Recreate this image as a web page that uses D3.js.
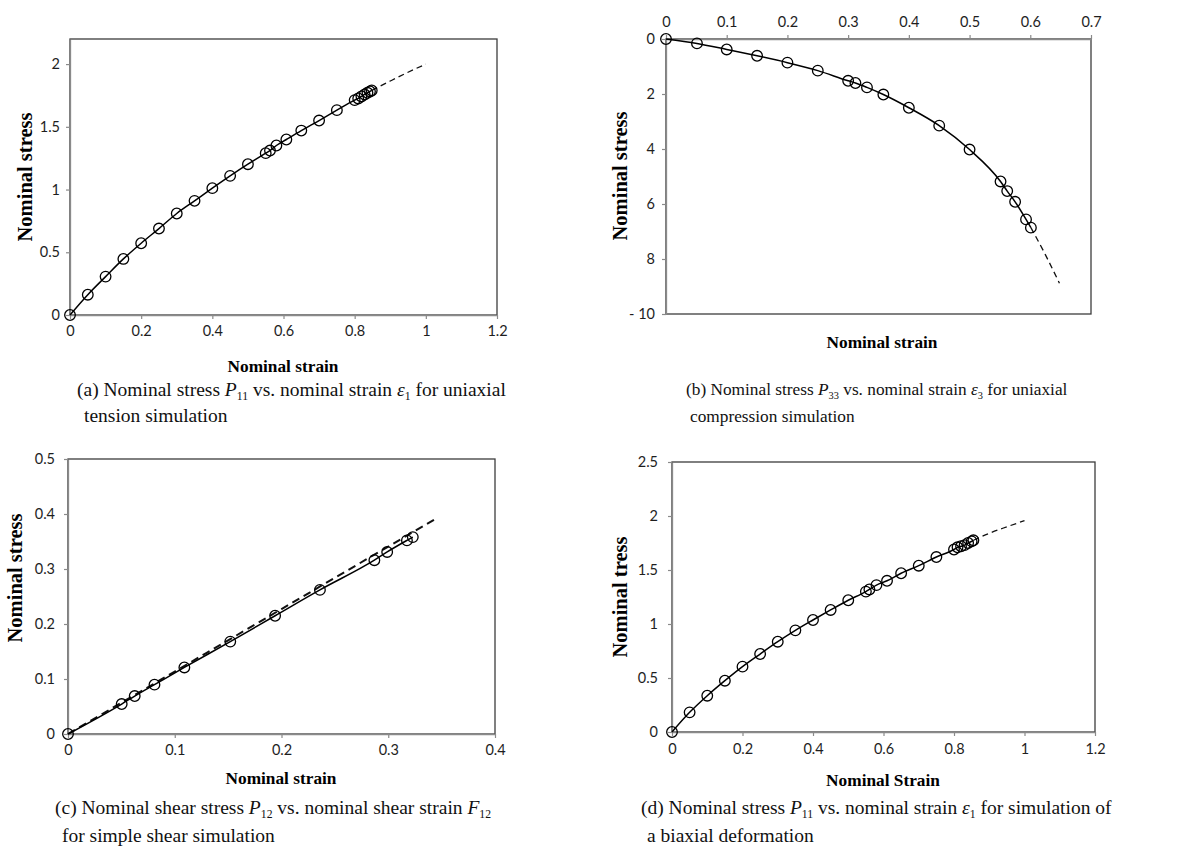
<!DOCTYPE html>
<html><head><meta charset="utf-8">
<script src="https://cdn.jsdelivr.net/npm/d3@7"></script>
<style>body{margin:0;background:#fff}</style>
</head><body>
<svg id="chart" width="1204" height="853"></svg>
<script>
// ---------- (a) uniaxial tension ----------
const aStrain = [0,0.05,0.1,0.15,0.2,0.25,0.3,0.35,0.4,0.45,0.5,0.55,0.562,0.58,0.608,0.65,0.7,0.75,0.8,0.81,0.819,0.828,0.836,0.843,0.848];
const aStress = [0,0.162,0.306,0.447,0.572,0.689,0.809,0.91,1.011,1.109,1.202,1.29,1.311,1.351,1.399,1.47,1.55,1.633,1.713,1.726,1.742,1.758,1.771,1.782,1.79];
const aModelStrain = [0.848,0.9,0.95,1.0];
const aModelStress = [1.79,1.865,1.935,2.0];
const aXTicks = [0,0.2,0.4,0.6,0.8,1,1.2];
const aXLabels = ["0","0.2","0.4","0.6","0.8","1","1.2"];
const aYTicks = [0,0.5,1,1.5,2];
const aYLabels = ["0","0.5","1","1.5","2"];

// ---------- (b) uniaxial compression ----------
const bStrain = [0,0.051,0.1,0.15,0.2,0.25,0.3,0.312,0.331,0.358,0.4,0.45,0.5,0.551,0.562,0.575,0.593,0.601];
const bStress = [0,-0.16,-0.38,-0.61,-0.86,-1.15,-1.52,-1.6,-1.76,-2.02,-2.5,-3.15,-4.02,-5.18,-5.53,-5.92,-6.56,-6.86];
const bModelStrain = [0.601,0.625,0.648];
const bModelStress = [-6.86,-7.85,-8.88];
const bXTicks = [0,0.1,0.2,0.3,0.4,0.5,0.6,0.7];
const bXLabels = ["0","0.1","0.2","0.3","0.4","0.5","0.6","0.7"];
const bYTicks = [0,-2,-4,-6,-8,-10];
const bYLabels = ["0","2","4","6","8","- 10"];

// ---------- (c) simple shear ----------
const cStrain = [0,0.0503,0.0625,0.081,0.109,0.152,0.194,0.236,0.287,0.299,0.3175,0.323];
const cStress = [0,0.0545,0.069,0.0897,0.121,0.168,0.215,0.262,0.316,0.331,0.352,0.358];
const cModelStrain = [0,0.1,0.2,0.3,0.346];
const cModelStress = [0,0.1136,0.2272,0.3408,0.393];
const cXTicks = [0,0.1,0.2,0.3,0.4];
const cXLabels = ["0","0.1","0.2","0.3","0.4"];
const cYTicks = [0,0.1,0.2,0.3,0.4,0.5];
const cYLabels = ["0","0.1","0.2","0.3","0.4","0.5"];

// ---------- (d) biaxial deformation ----------
const dStrain = [0,0.05,0.1,0.15,0.2,0.25,0.3,0.35,0.4,0.45,0.5,0.55,0.56,0.58,0.61,0.65,0.7,0.75,0.8,0.81,0.82,0.83,0.84,0.85,0.855];
const dStress = [0,0.182,0.336,0.475,0.605,0.722,0.836,0.941,1.037,1.13,1.22,1.3,1.32,1.36,1.4,1.47,1.54,1.62,1.69,1.71,1.72,1.73,1.75,1.765,1.775];
const dModelStrain = [0.855,0.9,0.95,1.0];
const dModelStress = [1.775,1.84,1.9,1.957];
const dXTicks = [0,0.2,0.4,0.6,0.8,1,1.2];
const dXLabels = ["0","0.2","0.4","0.6","0.8","1","1.2"];
const dYTicks = [0,0.5,1,1.5,2,2.5];
const dYLabels = ["0","0.5","1","1.5","2","2.5"];

const svg = d3.select("#chart");
const SERIF = "'Liberation Serif','Times New Roman',serif";
const SANS = "Lato,'Open Sans',sans-serif";

function panel(o) {
  const g = svg.append("g");
  const x = d3.scaleLinear().domain(o.xDom).range([o.l, o.r]);
  const y = d3.scaleLinear().domain(o.yDom).range([o.b, o.t]);
  // plot-area border
  g.append("rect").attr("x", o.l).attr("y", o.t).attr("width", o.r - o.l).attr("height", o.b - o.t)
    .attr("fill", "none").attr("stroke", "#3c3c3c").attr("stroke-width", 1.3);
  // axes
  const xa = (o.xTop ? d3.axisTop(x) : d3.axisBottom(x)).tickValues(o.xTicks)
    .tickFormat((d, i) => o.xLabels[i]).tickSizeInner(4).tickSizeOuter(0).tickPadding(o.xPad);
  const ya = d3.axisLeft(y).tickValues(o.yTicks)
    .tickFormat((d, i) => o.yLabels[i]).tickSizeInner(4).tickSizeOuter(0).tickPadding(o.yPad);
  const gx = g.append("g").attr("transform", `translate(0,${o.xTop ? o.t : o.b})`).call(xa);
  const gy = g.append("g").attr("transform", `translate(${o.l},0)`).call(ya);
  [gx, gy].forEach(ax => {
    ax.select(".domain").attr("stroke", "#8a8a8a").attr("stroke-width", 1.3);
    ax.selectAll(".tick line").attr("stroke", "#8a8a8a").attr("stroke-width", 1.2);
    ax.selectAll(".tick text").attr("font-family", SANS).attr("font-size", 14.5).attr("fill", "#1e1e1e");
  });
  // model (dashed)
  const mline = d3.line().x(d => x(d[0])).y(d => y(d[1])).curve(d3.curveMonotoneX);
  g.append("path").datum(d3.zip(o.mx, o.my)).attr("d", mline)
    .attr("fill", "none").attr("stroke", "#111").attr("stroke-width", o.dashW)
    .attr("stroke-dasharray", o.dash);
  // simulation (solid)
  const sline = d3.line().x(d => x(d[0])).y(d => y(d[1])).curve(d3.curveMonotoneX);
  const pts = d3.zip(o.sx, o.sy);
  g.append("path").datum(pts).attr("d", sline)
    .attr("fill", "none").attr("stroke", "#000").attr("stroke-width", 1.5);
  g.selectAll("circle.pt").data(pts).enter().append("circle")
    .attr("cx", d => x(d[0])).attr("cy", d => y(d[1])).attr("r", 5.3)
    .attr("fill", "none").attr("stroke", "#000").attr("stroke-width", 1.3);
  // titles
  g.append("text").attr("x", o.xtX).attr("y", o.xtY).attr("text-anchor", "middle")
    .attr("font-family", SERIF).attr("font-weight", "bold").attr("font-size", 17.3).text(o.xTitle);
  g.append("text").attr("transform", `translate(${o.ytX},${o.ytY}) rotate(-90)`).attr("text-anchor", "middle")
    .attr("font-family", SERIF).attr("font-weight", "bold").attr("font-size", 20.5).text(o.yTitle);
  // caption
  o.caption.forEach((line, li) => {
    const t = g.append("text").attr("x", line.x).attr("y", line.y)
      .attr("font-family", SERIF).attr("font-size", o.capSize).attr("fill", "#111");
    line.parts.forEach(p => {
      if (typeof p === "string") { t.append("tspan").text(p); }
      else if (p.i) { t.append("tspan").attr("font-style", "italic").text(p.i); }
      else if (p.sub) {
        t.append("tspan").attr("dy", 4).attr("font-size", o.capSize * 0.6).text(p.sub);
        t.append("tspan").attr("dy", -4).text(p.after || "");
      }
    });
  });
}

panel({ l: 70, t: 39, r: 497, b: 315, xDom: [0, 1.2], yDom: [0, 2.2],
  xTicks: aXTicks, xLabels: aXLabels, yTicks: aYTicks, yLabels: aYLabels, xPad: 7, yPad: 6,
  sx: aStrain, sy: aStress, mx: aModelStrain, my: aModelStress, dash: "6,4", dashW: 1.3,
  xTitle: "Nominal strain", xtX: 283, xtY: 372, yTitle: "Nominal stress", ytX: 32, ytY: 177,
  capSize: 19.5,
  caption: [
    { x: 77, y: 396, parts: ["(a) Nominal stress ", { i: "P" }, { sub: "11", after: " vs. nominal strain " }, { i: "ε" }, { sub: "1", after: " for uniaxial" }] },
    { x: 84, y: 422, parts: ["tension simulation"] }
  ] });

panel({ l: 666, t: 39, r: 1091, b: 314, xDom: [0, 0.7], yDom: [-10, 0], xTop: true,
  xTicks: bXTicks, xLabels: bXLabels, yTicks: bYTicks, yLabels: bYLabels, xPad: 8, yPad: 7,
  sx: bStrain, sy: bStress, mx: bModelStrain, my: bModelStress, dash: "6,4", dashW: 1.3,
  xTitle: "Nominal strain", xtX: 882, xtY: 348, yTitle: "Nominal stress", ytX: 627, ytY: 176,
  capSize: 17.3,
  caption: [
    { x: 686, y: 395, parts: ["(b) Nominal stress ", { i: "P" }, { sub: "33", after: " vs. nominal strain " }, { i: "ε" }, { sub: "3", after: " for uniaxial" }] },
    { x: 690, y: 422, parts: ["compression simulation"] }
  ] });

panel({ l: 68, t: 459, r: 495, b: 734, xDom: [0, 0.4], yDom: [0, 0.5],
  xTicks: cXTicks, xLabels: cXLabels, yTicks: cYTicks, yLabels: cYLabels, xPad: 7, yPad: 9,
  sx: cStrain, sy: cStress, mx: cModelStrain, my: cModelStress, dash: "8,5", dashW: 2,
  xTitle: "Nominal strain", xtX: 281, xtY: 784, yTitle: "Nominal stress", ytX: 22, ytY: 578,
  capSize: 19.5,
  caption: [
    { x: 55, y: 814, parts: ["(c) Nominal shear stress ", { i: "P" }, { sub: "12", after: " vs. nominal shear strain " }, { i: "F" }, { sub: "12", after: "" }] },
    { x: 62, y: 842, parts: ["for simple shear simulation"] }
  ] });

panel({ l: 672, t: 462, r: 1095, b: 732, xDom: [0, 1.2], yDom: [0, 2.5],
  xTicks: dXTicks, xLabels: dXLabels, yTicks: dYTicks, yLabels: dYLabels, xPad: 8, yPad: 10,
  sx: dStrain, sy: dStress, mx: dModelStrain, my: dModelStress, dash: "6,4", dashW: 1.3,
  xTitle: "Nominal Strain", xtX: 883, xtY: 786, yTitle: "Nominal tress", ytX: 627, ytY: 597,
  capSize: 19.5,
  caption: [
    { x: 641, y: 814, parts: ["(d) Nominal stress ", { i: "P" }, { sub: "11", after: " vs. nominal strain " }, { i: "ε" }, { sub: "1", after: "  for simulation of" }] },
    { x: 647, y: 842, parts: ["a biaxial deformation"] }
  ] });
</script>
</body></html>
